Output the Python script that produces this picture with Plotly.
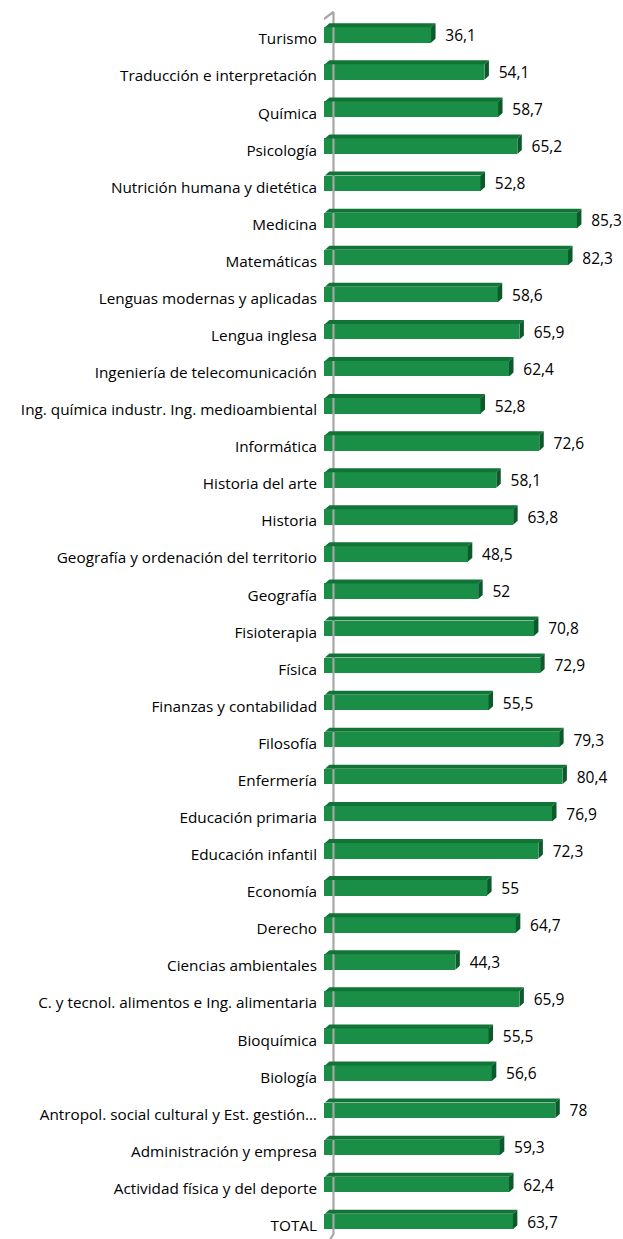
import plotly.graph_objects as go

categories = [
    "Turismo", "Traducción e interpretación", "Química", "Psicología",
    "Nutrición humana y dietética", "Medicina", "Matemáticas",
    "Lenguas modernas y aplicadas", "Lengua inglesa",
    "Ingeniería de telecomunicación",
    "Ing. química industr. Ing. medioambiental", "Informática",
    "Historia del arte", "Historia", "Geografía y ordenación del territorio",
    "Geografía", "Fisioterapia", "Física", "Finanzas y contabilidad",
    "Filosofía", "Enfermería", "Educación primaria", "Educación infantil",
    "Economía", "Derecho", "Ciencias ambientales",
    "C. y tecnol. alimentos e Ing. alimentaria", "Bioquímica", "Biología",
    "Antropol. social cultural y Est. gestión…", "Administración y empresa",
    "Actividad física y del deporte", "TOTAL",
]
values = [
    36.1, 54.1, 58.7, 65.2, 52.8, 85.3, 82.3, 58.6, 65.9, 62.4, 52.8, 72.6,
    58.1, 63.8, 48.5, 52, 70.8, 72.9, 55.5, 79.3, 80.4, 76.9, 72.3, 55, 64.7,
    44.3, 65.9, 55.5, 56.6, 78, 59.3, 62.4, 63.7,
]
value_labels = [f"{v:g}".replace(".", ",") for v in values]

W, H = 623, 1239
x0_px = 323.5
px_per_unit = 2.97
row0_px = 35.0
row_step = 37.08

x_max = (W - x0_px) / px_per_unit
y_top = -row0_px / row_step
y_bot = (H - row0_px) / row_step

FRONT = "#1A8E46"
TOP = "#107436"
SIDE = "#0B5A2B"
WALL = "#A6A6A6"
FONT = "Open Sans, Lato, sans-serif"

bar_w = 15.5 / row_step        # front face thickness (data units)
dx = 4.5 / px_per_unit          # depth offset in x
dy = 4.0 / row_step             # depth offset in y (upwards)

ys = list(range(len(categories)))

fig = go.Figure()

# wall outline (3D axis wall)
wl = (320.7 - x0_px) / px_per_unit
wr = (333 - x0_px) / px_per_unit
wall_top_l = (21 - row0_px) / row_step
wall_top_r = (12 - row0_px) / row_step
wall_bot_r = (1234 - row0_px) / row_step
wall_bot_l = (1242 - row0_px) / row_step
fig.add_trace(go.Scatter(
    x=[wl, wl, wr, wr, wl + (wr - wl) * 0.6],
    y=[wall_bot_l + 1, wall_top_l, wall_top_r, wall_bot_r, wall_bot_l],
    mode="lines", line=dict(color=WALL, width=2.2),
    hoverinfo="skip", showlegend=False, cliponaxis=False,
))

# front faces
fig.add_trace(go.Bar(
    x=values, y=ys, orientation="h", width=bar_w,
    marker=dict(color=FRONT, line=dict(width=0)),
    showlegend=False, hoverinfo="skip",
))

# top and side faces
top_x, top_y, side_x, side_y = [], [], [], []
for v, y in zip(values, ys):
    yt = y - bar_w / 2
    yb = y + bar_w / 2
    top_x += [0.3, v, v + dx, 0.3 + dx, 0.3, None]
    top_y += [yt, yt, yt - dy, yt - dy, yt, None]
    side_x += [v, v + dx, v + dx, v, v, None]
    side_y += [yt, yt - dy, yb - dy, yb, yt, None]

fig.add_trace(go.Scatter(
    x=top_x, y=top_y, mode="lines", fill="toself", fillcolor=TOP,
    line=dict(width=0, color=TOP), hoverinfo="skip", showlegend=False,
))
fig.add_trace(go.Scatter(
    x=side_x, y=side_y, mode="lines", fill="toself", fillcolor=SIDE,
    line=dict(width=0, color=SIDE), hoverinfo="skip", showlegend=False,
))

# value labels
fig.add_trace(go.Scatter(
    x=[v + dx + 3.3 for v in values], y=[y + 0.06 for y in ys], mode="text",
    text=value_labels, textposition="middle right",
    textfont=dict(family=FONT, size=15.5, color="#000000"),
    hoverinfo="skip", showlegend=False, cliponaxis=False,
))

fig.update_layout(
    width=W, height=H,
    margin=dict(l=x0_px, r=0, t=0, b=0, autoexpand=False),
    paper_bgcolor="white", plot_bgcolor="white",
    xaxis=dict(range=[0, x_max], showgrid=False, zeroline=False,
               showticklabels=False, showline=False, fixedrange=True,
               automargin=False),
    yaxis=dict(range=[y_bot, y_top], tickmode="array", tickvals=ys,
               ticktext=categories, showgrid=False, zeroline=False,
               showline=False, ticks="", ticklabelstandoff=6,
               ticklabelshift=-4,
               automargin=False,
               tickfont=dict(family=FONT, size=15.3, color="#000000"),
               fixedrange=True),
    bargap=0,
)

fig.write_html(
    "out.html",
    config={"displayModeBar": False},
    post_script="document.body.style.margin='0';document.body.style.overflow='hidden';",
)
